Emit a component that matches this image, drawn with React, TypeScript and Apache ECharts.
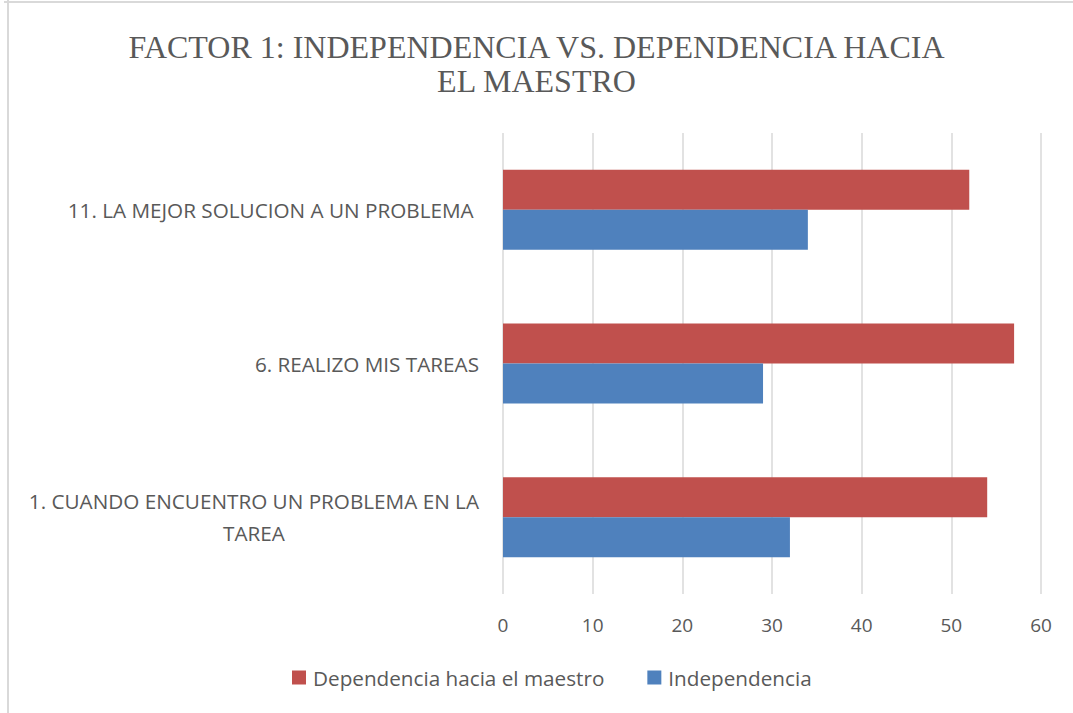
import React, { useEffect, useRef } from "react";
import * as echarts from "echarts";

const titleText = "FACTOR 1: INDEPENDENCIA VS. DEPENDENCIA HACIA\nEL MAESTRO";
const categories = [
  "1. CUANDO ENCUENTRO UN PROBLEMA EN LA\nTAREA",
  "6. REALIZO MIS TAREAS",
  "11. LA MEJOR SOLUCION A UN PROBLEMA ",
];
const seriesNames = ["Dependencia hacia el maestro", "Independencia"];
const dependencia = [54, 57, 52];
const independencia = [32, 29, 34];
const xTicks = { min: 0, max: 60, interval: 10 };

const FONT = "Open Sans";

export default function App() {
  const ref = useRef<HTMLDivElement>(null);
  useEffect(() => {
    if (!ref.current) return;
    const chart = echarts.init(ref.current, undefined, { renderer: "svg" });
    chart.setOption({
      animation: false,
      backgroundColor: "#ffffff",
      title: {
        text: titleText,
        left: "center",
        top: 25,
        textStyle: {
          fontFamily: "Liberation Serif",
          fontWeight: "normal",
          fontSize: 32,
          color: "#595959",
          lineHeight: 34,
        },
      },
      graphic: [
        { type: "line", shape: { x1: 4, y1: 2, x2: 1073, y2: 2 }, style: { stroke: "#d9d9d9", lineWidth: 2 } },
        { type: "line", shape: { x1: 8, y1: 0, x2: 8, y2: 713 }, style: { stroke: "#d9d9d9", lineWidth: 2 } },
      ],
      legend: {
        bottom: 20,
        left: 287,
        itemWidth: 14,
        itemHeight: 14,
        itemGap: 43,
        icon: "rect",
        data: seriesNames,
        textStyle: { fontFamily: FONT, fontSize: 20.7, color: "#595959", padding: [0, 0, 0, 2] },
      },
      grid: { left: 503, right: 32, top: 133, bottom: 119, containLabel: false },
      xAxis: {
        type: "value",
        min: xTicks.min,
        max: xTicks.max,
        interval: xTicks.interval,
        axisLine: { show: false },
        axisTick: { show: false },
        splitLine: { show: true, lineStyle: { color: "#d9d9d9", width: 1.5 } },
        axisLabel: { fontFamily: FONT, fontSize: 19, color: "#595959", margin: 21 },
      },
      yAxis: {
        type: "category",
        data: categories,
        axisLine: { show: false },
        axisTick: { show: false },
        axisLabel: {
          margin: 24,
          align: "right",
          formatter: (v: string) => v.split("\n").map((l) => `{c|${l}}`).join("\n"),
          rich: {
            c: { align: "center", fontFamily: FONT, fontSize: 20.7, color: "#595959", lineHeight: 32 },
          },
        },
      },
      series: [
        {
          name: seriesNames[0],
          type: "bar",
          data: dependencia,
          barWidth: 40,
          barGap: "0%",
          itemStyle: { color: "#C0504D" },
        },
        {
          name: seriesNames[1],
          type: "bar",
          data: independencia,
          barWidth: 40,
          barGap: "0%",
          itemStyle: { color: "#4F81BD" },
        },
      ],
    });
    return () => chart.dispose();
  }, []);
  return (
    <div
      ref={ref}
      style={{ position: "fixed", left: 0, top: 0, width: 1073, height: 713 }}
    />
  );
}
